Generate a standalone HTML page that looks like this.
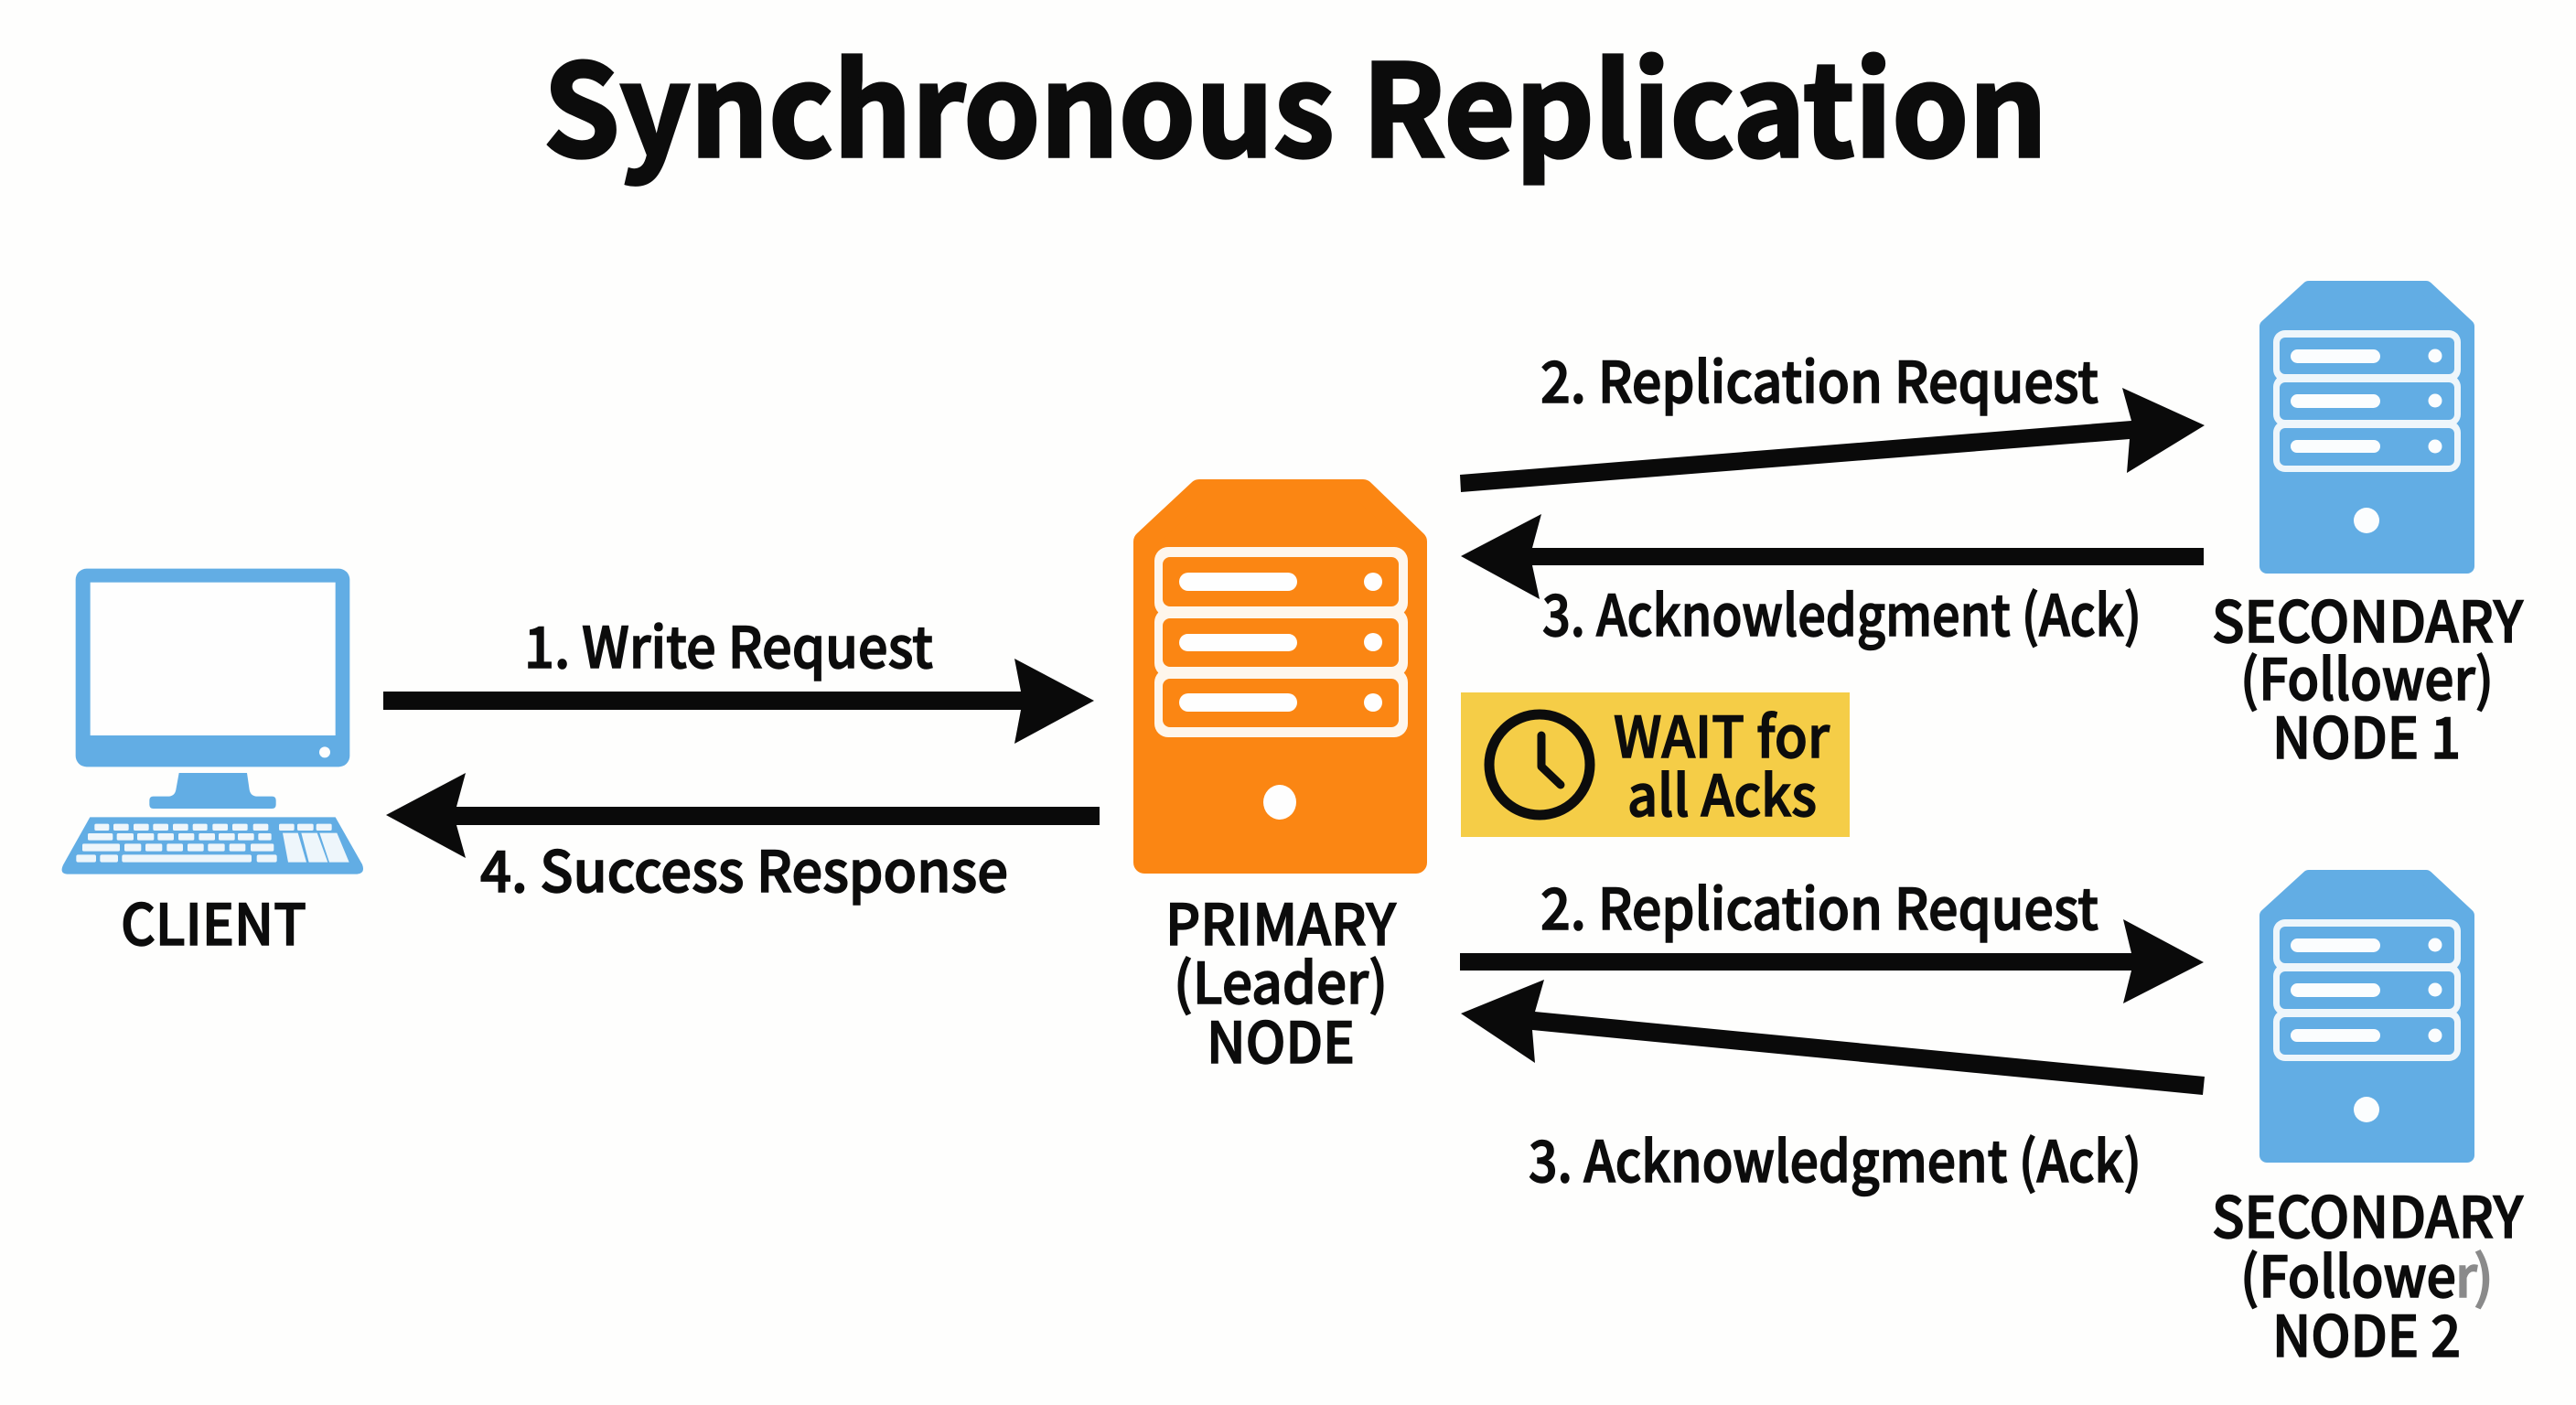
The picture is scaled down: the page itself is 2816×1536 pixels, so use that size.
<!DOCTYPE html>
<html lang="en">
<head>
<meta charset="utf-8">
<title>Synchronous Replication</title>
<style>
html,body{margin:0;padding:0;background:#fefefd;}
svg{display:block;}
text{font-family:"Noto Sans CJK SC","Liberation Sans",sans-serif;fill:#0c0c0c;stroke:#0c0c0c;stroke-width:1.5px;font-weight:500;font-size:62px;}
.t{font-weight:700;font-size:139px;stroke-width:3.5px;}
</style>
</head>
<body>
<svg width="2816" height="1536" viewBox="0 0 2816 1536" xmlns="http://www.w3.org/2000/svg">
<rect width="2816" height="1536" fill="#fefefd"/>

<text class="t" x="594" y="171" textLength="1644" lengthAdjust="spacingAndGlyphs">Synchronous Replication</text>

<!-- Client -->
<g transform="translate(40,580) scale(0.33333)">
  <rect x="128" y="125" width="899" height="650" rx="36" fill="#62ade4"/>
  <rect x="176" y="170" width="804" height="502" fill="#fefefe"/>
  <circle cx="945" cy="727" r="18" fill="#fefefe"/>
  <path d="M467 795H690L698 850Q702 872 725 872H772Q785 872 785 885V899Q785 912 772 912H383Q370 912 370 899V885Q370 872 383 872H430Q453 872 457 850Z" fill="#62ade4"/>
  <path d="M175 940H980L1068 1095Q1080 1127 1045 1127H105Q72 1127 88 1095Z" fill="#62ade4"/>
  <g fill="#eef6fb">
    <rect x="190" y="962" width="48" height="22" rx="5"/><rect x="252" y="962" width="50" height="22" rx="5"/><rect x="318" y="962" width="50" height="22" rx="5"/><rect x="382" y="962" width="50" height="22" rx="5"/><rect x="447" y="962" width="50" height="22" rx="5"/><rect x="512" y="962" width="48" height="22" rx="5"/><rect x="577" y="962" width="50" height="22" rx="5"/><rect x="642" y="962" width="50" height="22" rx="5"/><rect x="710" y="962" width="50" height="22" rx="5"/><rect x="795" y="962" width="50" height="22" rx="5"/><rect x="855" y="962" width="53" height="22" rx="5"/><rect x="917" y="962" width="51" height="22" rx="5"/>
    <rect x="168" y="993" width="82" height="23" rx="5"/><rect x="263" y="993" width="55" height="23" rx="5"/><rect x="330" y="993" width="55" height="23" rx="5"/><rect x="397" y="993" width="53" height="23" rx="5"/><rect x="465" y="993" width="52" height="23" rx="5"/><rect x="532" y="993" width="53" height="23" rx="5"/><rect x="597" y="993" width="53" height="23" rx="5"/><rect x="660" y="993" width="53" height="23" rx="5"/><rect x="727" y="993" width="43" height="23" rx="5"/>
    <rect x="150" y="1027" width="123" height="25" rx="5"/><rect x="288" y="1027" width="55" height="25" rx="5"/><rect x="357" y="1027" width="55" height="25" rx="5"/><rect x="427" y="1027" width="53" height="25" rx="5"/><rect x="495" y="1027" width="53" height="25" rx="5"/><rect x="562" y="1027" width="55" height="25" rx="5"/><rect x="632" y="1027" width="53" height="25" rx="5"/><rect x="702" y="1027" width="76" height="25" rx="5"/>
    <rect x="130" y="1063" width="65" height="25" rx="6"/><rect x="208" y="1063" width="59" height="25" rx="6"/><rect x="280" y="1063" width="425" height="25" rx="6"/><rect x="722" y="1063" width="66" height="25" rx="6"/>
    <path d="M807 992H857L885 1088H825Z"/><path d="M868 992H920L955 1088H893Z"/><path d="M928 992H985L1025 1088H960Z"/>
  </g>
</g>
<text x="132" y="1033" textLength="203" lengthAdjust="spacingAndGlyphs">CLIENT</text>

<!-- Primary -->
<path d="M1311 536H1490L1548 592V943H1251V592Z" fill="#fb8613" stroke="#fb8613" stroke-width="24" stroke-linejoin="round"/>
<g fill="#fef6ec">
  <rect x="1262" y="598" width="277" height="76" rx="15"/>
  <rect x="1262" y="665" width="277" height="75" rx="15"/>
  <rect x="1262" y="731" width="277" height="75" rx="15"/>
</g>
<g fill="#fb8613">
  <rect x="1271" y="609" width="258" height="54" rx="8"/>
  <rect x="1271" y="676" width="258" height="53" rx="8"/>
  <rect x="1271" y="742" width="258" height="53" rx="8"/>
</g>
<g fill="#fefefe">
  <rect x="1289" y="626" width="129" height="20" rx="10"/>
  <rect x="1289" y="693" width="129" height="19" rx="9.5"/>
  <rect x="1289" y="758" width="129" height="20" rx="10"/>
  <ellipse cx="1501" cy="636" rx="10" ry="10"/>
  <ellipse cx="1501" cy="702" rx="10" ry="10"/>
  <ellipse cx="1501" cy="768" rx="10" ry="10"/>
  <ellipse cx="1399" cy="877" rx="18" ry="19"/>
</g>
<text x="1274" y="1033" textLength="252" lengthAdjust="spacingAndGlyphs">PRIMARY</text>
<text x="1283" y="1097" textLength="234" lengthAdjust="spacingAndGlyphs">(Leader)</text>
<text x="1319" y="1162" textLength="162" lengthAdjust="spacingAndGlyphs">NODE</text>

<!-- Secondary 1 -->
<g>
<path d="M2524 315H2652L2697 357V619H2478V357Z" fill="#62ade4" stroke="#62ade4" stroke-width="16" stroke-linejoin="round"/>
<g fill="#eef6fb">
  <rect x="2485" y="361" width="205" height="56" rx="13"/>
  <rect x="2485" y="410" width="205" height="56" rx="13"/>
  <rect x="2485" y="460" width="205" height="56" rx="13"/>
</g>
<g fill="#62ade4">
  <rect x="2492" y="369" width="191" height="40" rx="6"/>
  <rect x="2492" y="418" width="191" height="41" rx="6"/>
  <rect x="2492" y="468" width="191" height="41" rx="6"/>
</g>
<g fill="#fbfdfe">
  <rect x="2504" y="382" width="98" height="15" rx="7.5"/>
  <rect x="2504" y="431" width="98" height="15" rx="7.5"/>
  <rect x="2504" y="481" width="98" height="14" rx="7"/>
  <circle cx="2662" cy="389" r="7.5"/>
  <circle cx="2662" cy="438" r="7.5"/>
  <circle cx="2662" cy="488" r="7.5"/>
  <ellipse cx="2587" cy="569" rx="14" ry="14"/>
</g>
</g>
<text x="2418" y="702" textLength="340" lengthAdjust="spacingAndGlyphs">SECONDARY</text>
<text x="2449" y="765" textLength="277" lengthAdjust="spacingAndGlyphs">(Follower)</text>
<text x="2484" y="829" textLength="206" lengthAdjust="spacingAndGlyphs">NODE 1</text>

<!-- Secondary 2 -->
<g transform="translate(0,644)">
<path d="M2524 315H2652L2697 357V619H2478V357Z" fill="#62ade4" stroke="#62ade4" stroke-width="16" stroke-linejoin="round"/>
<g fill="#eef6fb">
  <rect x="2485" y="361" width="205" height="56" rx="13"/>
  <rect x="2485" y="410" width="205" height="56" rx="13"/>
  <rect x="2485" y="460" width="205" height="56" rx="13"/>
</g>
<g fill="#62ade4">
  <rect x="2492" y="369" width="191" height="40" rx="6"/>
  <rect x="2492" y="418" width="191" height="41" rx="6"/>
  <rect x="2492" y="468" width="191" height="41" rx="6"/>
</g>
<g fill="#fbfdfe">
  <rect x="2504" y="382" width="98" height="15" rx="7.5"/>
  <rect x="2504" y="431" width="98" height="15" rx="7.5"/>
  <rect x="2504" y="481" width="98" height="14" rx="7"/>
  <circle cx="2662" cy="389" r="7.5"/>
  <circle cx="2662" cy="438" r="7.5"/>
  <circle cx="2662" cy="488" r="7.5"/>
  <ellipse cx="2587" cy="569" rx="14" ry="14"/>
</g>
</g>
<text x="2418" y="1353" textLength="340" lengthAdjust="spacingAndGlyphs">SECONDARY</text>
<text x="2449" y="1418" textLength="236" lengthAdjust="spacingAndGlyphs">(Followe</text>
<text x="2684" y="1418" textLength="24" lengthAdjust="spacingAndGlyphs" style="fill:#8a8a8a;stroke:#8a8a8a">r</text>
<text x="2704" y="1418" textLength="22" lengthAdjust="spacingAndGlyphs" style="fill:#8a8a8a;stroke:#8a8a8a">)</text>
<text x="2484" y="1483" textLength="206" lengthAdjust="spacingAndGlyphs">NODE 2</text>

<!-- Arrows -->
<g fill="#0a0a0a">
  <polygon points="419,756 1116,756 1109,720 1196,766 1109,813 1116,776 419,776"/>
  <polygon points="422,891 509,845 499,882 1202,882 1202,902 499,902 509,938"/>
  <polygon points="1596,519 2330,460 2320,424 2410,465 2325,517 2328,480 1597,538"/>
  <polygon points="1597,608 1685,562 1675,599 2409,599 2409,618 1675,618 1683,655"/>
  <polygon points="1596,1042 2330,1042 2321,1005 2409,1052 2321,1097 2330,1061 1596,1061"/>
  <polygon points="1597,1108 1688,1071 1678,1106 2410,1177 2408,1197 1675,1126 1678,1162"/>
</g>

<!-- Arrow labels -->
<text x="573" y="730" textLength="447" lengthAdjust="spacingAndGlyphs">1. Write Request</text>
<text x="525" y="975" textLength="577" lengthAdjust="spacingAndGlyphs">4. Success Response</text>
<text x="1684" y="440" textLength="610" lengthAdjust="spacingAndGlyphs">2. Replication Request</text>
<text x="1686" y="695" textLength="655" lengthAdjust="spacingAndGlyphs">3. Acknowledgment (Ack)</text>
<text x="1684" y="1016" textLength="610" lengthAdjust="spacingAndGlyphs">2. Replication Request</text>
<text x="1671" y="1292" textLength="670" lengthAdjust="spacingAndGlyphs">3. Acknowledgment (Ack)</text>

<!-- Wait box -->
<rect x="1597" y="757" width="425" height="158" fill="#f5cd47"/>
<circle cx="1683" cy="836" r="55" fill="none" stroke="#0c0c0c" stroke-width="11"/>
<path d="M1685 804V838L1706 858" fill="none" stroke="#0c0c0c" stroke-width="9" stroke-linecap="round" stroke-linejoin="round"/>
<text x="1764" y="828" textLength="236" lengthAdjust="spacingAndGlyphs">WAIT for</text>
<text x="1779" y="892" textLength="207" lengthAdjust="spacingAndGlyphs">all Acks</text>
</svg>
</body>
</html>
